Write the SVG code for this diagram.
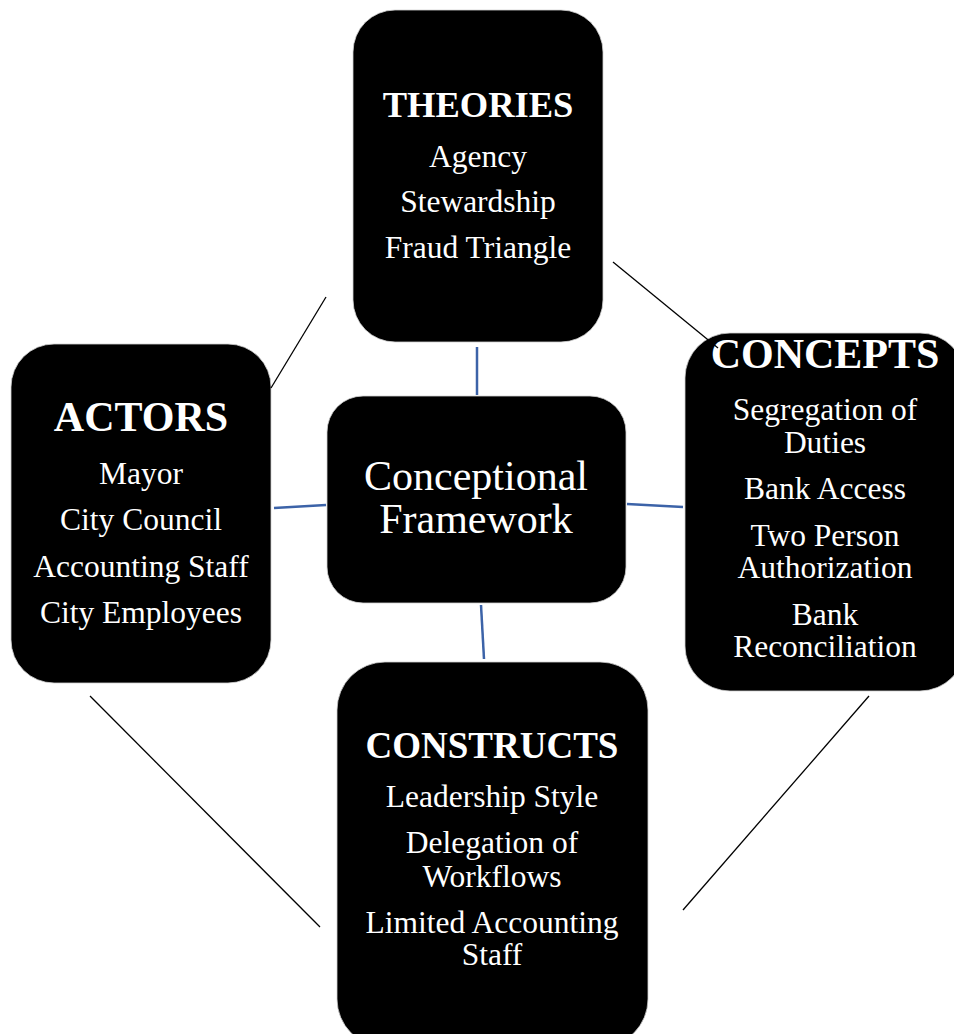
<svg xmlns="http://www.w3.org/2000/svg" width="954" height="1034" viewBox="0 0 954 1034">
<style>
.box{fill:#000;stroke:#d0d0d0;stroke-width:0.8}
.t{font-family:"Liberation Serif","Times New Roman",serif;fill:#fff;text-anchor:middle}
.h{font-weight:bold}
.b{font-size:31.5px}
.blue{stroke:#3C63A8;stroke-width:2.5;fill:none}
.blk{stroke:#000;stroke-width:1.3;fill:none}
</style>
<rect width="954" height="1034" fill="#fff"/>
<g id="theories">
<rect class="box" x="353" y="10" width="250" height="332" rx="42"/>
<text class="t h" x="478" y="117" font-size="36.5">THEORIES</text>
<text class="t b" x="478" y="167">Agency</text>
<text class="t b" x="478" y="212">Stewardship</text>
<text class="t b" x="478" y="258">Fraud Triangle</text>
</g>
<g id="actors">
<rect class="box" x="11" y="344" width="260" height="339" rx="43"/>
<text class="t h" x="141" y="431" font-size="42">ACTORS</text>
<text class="t b" x="141" y="484">Mayor</text>
<text class="t b" x="141" y="530">City Council</text>
<text class="t b" x="141" y="577">Accounting Staff</text>
<text class="t b" x="141" y="623">City Employees</text>
</g>
<g id="center">
<rect class="box" x="327" y="396" width="299" height="207" rx="36"/>
<text class="t" x="476" y="490" font-size="42">Conceptional</text>
<text class="t" x="476" y="533" font-size="42">Framework</text>
</g>
<g id="concepts">
<rect class="box" x="685" y="333" width="280" height="358" rx="45"/>
<text class="t h" x="825" y="368" font-size="42">CONCEPTS</text>
<text class="t b" x="825" y="420">Segregation of</text>
<text class="t b" x="825" y="453">Duties</text>
<text class="t b" x="825" y="499">Bank Access</text>
<text class="t b" x="825" y="546">Two Person</text>
<text class="t b" x="825" y="578">Authorization</text>
<text class="t b" x="825" y="625">Bank</text>
<text class="t b" x="825" y="657">Reconciliation</text>
</g>
<g id="constructs">
<rect class="box" x="337" y="662" width="311" height="385" rx="48"/>
<text class="t h" x="492" y="758" font-size="37">CONSTRUCTS</text>
<text class="t b" x="492" y="807">Leadership Style</text>
<text class="t b" x="492" y="853">Delegation of</text>
<text class="t b" x="492" y="887">Workflows</text>
<text class="t b" x="492" y="933">Limited Accounting</text>
<text class="t b" x="492" y="965">Staff</text>
</g>
<g id="connectors">
<line class="blue" x1="477" y1="347" x2="477" y2="395"/>
<line class="blue" x1="274" y1="508" x2="326" y2="505"/>
<line class="blue" x1="627" y1="504" x2="683" y2="507"/>
<line class="blue" x1="481" y1="605" x2="484" y2="659"/>
<line class="blk" x1="326" y1="297" x2="271" y2="388"/>
<line class="blk" x1="613" y1="262" x2="718" y2="348"/>
<line class="blk" x1="90" y1="696" x2="320" y2="927"/>
<line class="blk" x1="869" y1="696" x2="683" y2="910"/>
</g>
</svg>
